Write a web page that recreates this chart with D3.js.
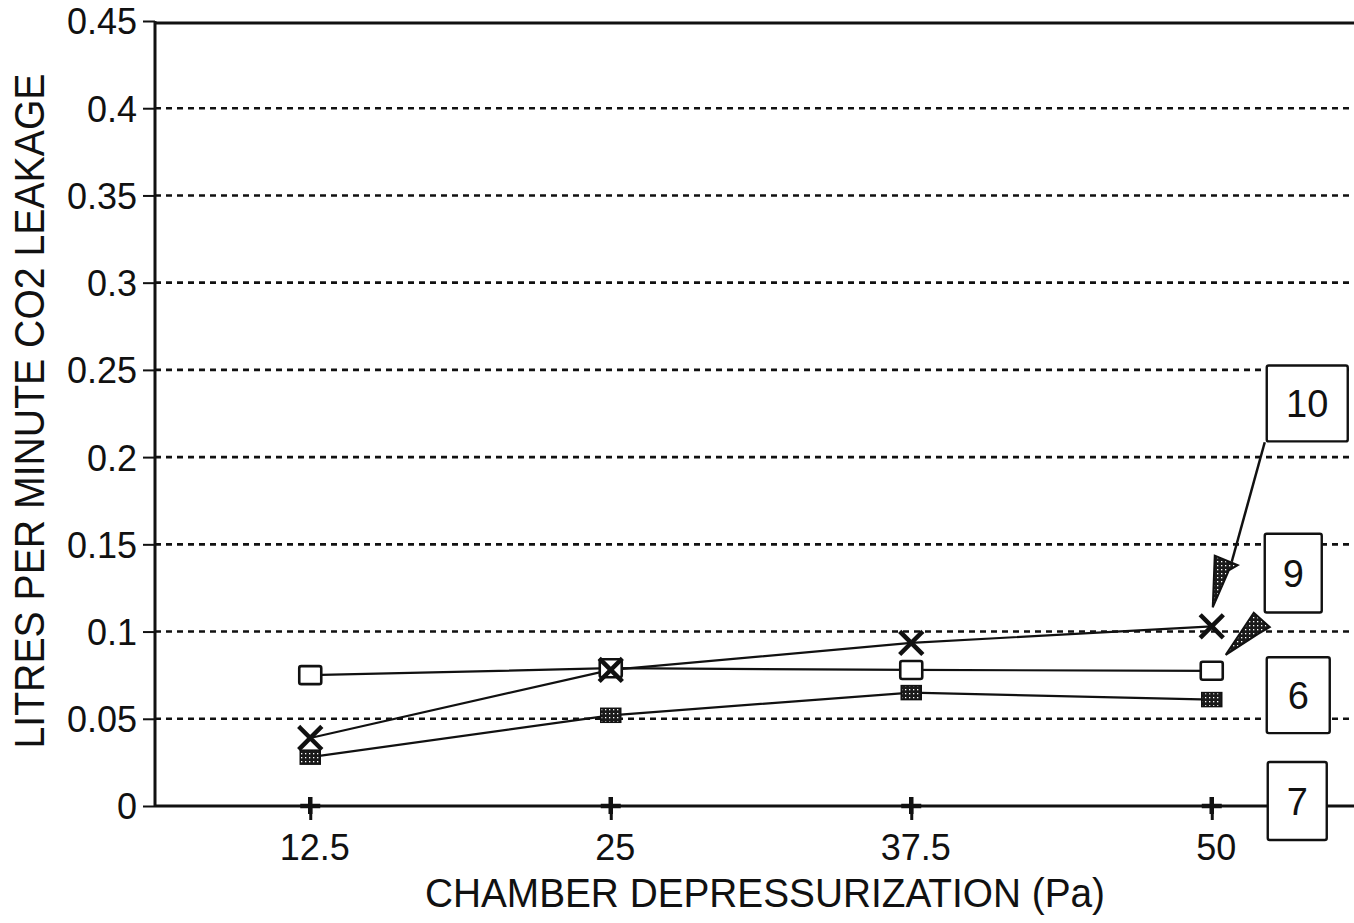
<!DOCTYPE html>
<html><head><meta charset="utf-8">
<script src="https://cdn.jsdelivr.net/npm/d3@7"></script>
<style>body{margin:0;background:#fff}svg{display:block}text{font-family:"Liberation Sans",Arial,sans-serif;fill:#111}</style>
</head><body><svg id="c" width="1354" height="923"></svg>
<script>
const categories = ["12.5", "25", "37.5", "50"];
const yTicks = [0, 0.05, 0.1, 0.15, 0.2, 0.25, 0.3, 0.35, 0.4, 0.45];
const yTickLabels = ["0", "0.05", "0.1", "0.15", "0.2", "0.25", "0.3", "0.35", "0.4", "0.45"];
const series10 = [0.039, 0.078, 0.0935, 0.103];   // X markers
const series9  = [0.075, 0.079, 0.078, 0.0775];   // open squares
const series6  = [0.028, 0.052, 0.065, 0.061];    // filled squares
const series7  = [0, 0, 0, 0];                    // plus markers
const labelNames = ["10", "9", "6", "7"];
const xTitle = "CHAMBER DEPRESSURIZATION (Pa)";
const yTitle = "LITRES PER MINUTE CO2 LEAKAGE";

const svg = d3.select("#c");
const W = 1354;
const x = d3.scalePoint().domain(categories).range([160, 1362]).padding(0.5);
const y = d3.scaleLinear().domain([0, 0.45]).range([806, 21]);
const axisX = 155;

// pattern
const defs = svg.append("defs");
const pat = defs.append("pattern").attr("id","dots").attr("patternUnits","userSpaceOnUse").attr("width",4).attr("height",4);
pat.append("rect").attr("width",4).attr("height",4).attr("fill","#1a1a1a");
pat.append("rect").attr("x",1).attr("y",1).attr("width",1.3).attr("height",1.3).attr("fill","#fff");

// gridlines
svg.append("g").selectAll("line").data(yTicks.filter(d => d > 0 && d < 0.45)).join("line")
  .attr("x1", axisX).attr("x2", W).attr("y1", d => y(d)).attr("y2", d => y(d))
  .attr("stroke", "#111").attr("stroke-width", 2.6).attr("stroke-dasharray", "6,5");

// top border and baseline
svg.append("line").attr("x1", axisX).attr("x2", W).attr("y1", y(0.45)+2).attr("y2", y(0.45)+2).attr("stroke","#111").attr("stroke-width",3);
svg.append("line").attr("x1", axisX).attr("x2", W).attr("y1", y(0)).attr("y2", y(0)).attr("stroke","#111").attr("stroke-width",3);

// y axis
const yAxis = d3.axisLeft(y).tickValues(yTicks).tickSize(12).tickPadding(4)
  .tickFormat((d,i) => yTickLabels[i]);
const gy = svg.append("g").attr("transform", `translate(${axisX},0)`).call(yAxis);
gy.select(".domain").attr("stroke","#111").attr("stroke-width",3).attr("d", `M0,${y(0.45)}V${y(0)}`);
gy.selectAll(".tick line").attr("stroke","#111").attr("stroke-width",2);
gy.selectAll(".tick text").attr("font-size", 36).attr("fill","#111").attr("font-family","Liberation Sans, Arial")
  .attr("dy","0.36em").attr("transform","scale(0.94,1)").attr("x", -18/0.94);
gy.selectAll(".tick text").attr("transform", null).attr("x",-18)
  .each(function(){ const t=d3.select(this); const n=t.text().length; t.attr("textLength", null); });

// x axis
const xAxis = d3.axisBottom(x).tickSize(14).tickPadding(14);
const gx = svg.append("g").attr("transform", `translate(0,${y(0)})`).call(xAxis);
gx.select(".domain").remove();
gx.selectAll(".tick line").attr("stroke","#111").attr("stroke-width",3);
gx.selectAll(".tick text").attr("font-size", 36).attr("fill","#111").attr("font-family","Liberation Sans, Arial").attr("dx", 4);

// titles
svg.append("text").attr("x", 765).attr("y", 907).attr("text-anchor","middle").attr("font-size", 40)
  .attr("textLength", 680).attr("lengthAdjust","spacingAndGlyphs").text(xTitle);
svg.append("text").attr("transform","translate(44,411) rotate(-90)").attr("text-anchor","middle").attr("font-size", 42)
  .attr("textLength", 675).attr("lengthAdjust","spacingAndGlyphs").text(yTitle);

// lines
const line = d3.line().x((d,i) => x(categories[i])).y(d => y(d));
[series9, series6, series10, series7].forEach(s => {
  svg.append("path").datum(s).attr("d", line).attr("fill","none").attr("stroke","#111").attr("stroke-width",2.2);
});

// markers
const g = svg.append("g");
// open squares
g.selectAll(".sq").data(series9).join("rect").attr("class","sq")
  .attr("x",(d,i)=>x(categories[i])-11).attr("y",d=>y(d)-9).attr("width",22).attr("height",18).attr("rx",2)
  .attr("fill","#fff").attr("stroke","#111").attr("stroke-width",2.6);
// filled squares
g.selectAll(".fs").data(series6).join("rect").attr("class","fs")
  .attr("x",(d,i)=>x(categories[i])-10).attr("y",d=>y(d)-7).attr("width",20).attr("height",14)
  .attr("fill","url(#dots)").attr("stroke","#111").attr("stroke-width",1.5);
// X markers
g.selectAll(".xm").data(series10).join("path").attr("class","xm")
  .attr("d",(d,i)=>{const cx=x(categories[i]), cy=y(d); return `M${cx-10},${cy-10}L${cx+10},${cy+10}M${cx+10},${cy-10}L${cx-10},${cy+10}`;})
  .attr("stroke","#111").attr("stroke-width",4.5).attr("stroke-linecap","square");
// plus markers
g.selectAll(".pm").data(series7).join("path").attr("class","pm")
  .attr("d",(d,i)=>{const cx=x(categories[i]), cy=y(d); return `M${cx-10},${cy}L${cx+10},${cy}M${cx},${cy-9}L${cx},${cy+8}`;})
  .attr("stroke","#111").attr("stroke-width",4.5);

// annotation boxes (positioned from the data: label y in value units, relative to last category)
const lastX = x(categories[3]);
const boxes = [
  {name: labelNames[0], x0: lastX+55, x1: lastX+136, v0: 0.2525, v1: 0.209},
  {name: labelNames[1], x0: lastX+53, x1: lastX+110, v0: 0.1561, v1: 0.1109},
  {name: labelNames[2], x0: lastX+55, x1: lastX+118, v0: 0.0853, v1: 0.0418},
  {name: labelNames[3], x0: lastX+56, x1: lastX+115, v0: 0.0252, v1: -0.0195}
];
const bg = svg.append("g");
bg.selectAll("rect").data(boxes).join("rect")
  .attr("x", d=>d.x0).attr("y", d=>y(d.v0)).attr("width", d=>d.x1-d.x0).attr("height", d=>y(d.v1)-y(d.v0)).attr("rx",2)
  .attr("fill","#fff").attr("stroke","#111").attr("stroke-width",2.4);
bg.selectAll("text").data(boxes).join("text")
  .attr("x", d=>(d.x0+d.x1)/2).attr("y", d=>(y(d.v0)+y(d.v1))/2).attr("dy","0.36em").attr("text-anchor","middle")
  .attr("font-size",38).text(d=>d.name);

// arrows
const arr = svg.append("g");
// arrow from box 10 to X marker at 50
const t10 = [lastX+1, y(series10[3])-19];
arr.append("line").attr("x1", lastX+53).attr("y1", y(0.2085)).attr("x2", lastX+20).attr("y2", y(0.14)).attr("stroke","#111").attr("stroke-width",2.5);
arr.append("path").attr("d", `M${lastX+3},${y(0.1435)} L${lastX+26},${y(0.138)} L${lastX+17},${y(0.135)} L${t10[0]},${t10[1]} Z`)
  .attr("fill","url(#dots)").attr("stroke","#111").attr("stroke-width",2);
// arrow from box 9 to open square at 50
const t9 = [lastX+14, y(series9[3])-16];
arr.append("path").attr("d", `M${lastX+42},${y(0.1108)} L${lastX+58},${y(0.1025)} L${lastX+46},${y(0.0985)} L${t9[0]},${t9[1]} Z`)
  .attr("fill","url(#dots)").attr("stroke","#111").attr("stroke-width",2);
</script></body></html>
